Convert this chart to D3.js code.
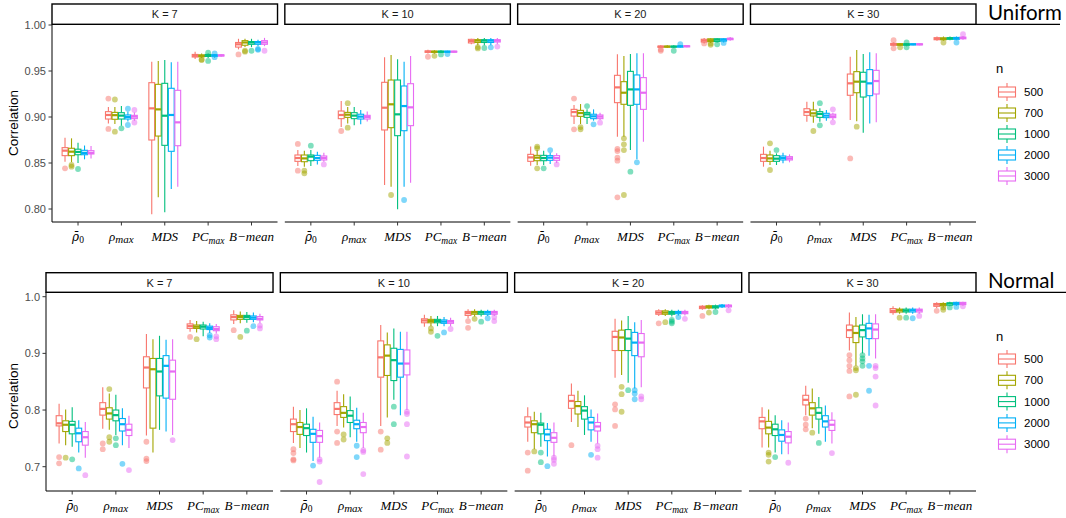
<!DOCTYPE html>
<html>
<head>
<meta charset="utf-8">
<script src="https://cdn.jsdelivr.net/npm/d3@7"></script>
<style>
  html, body { margin: 0; padding: 0; background: #ffffff; }
  svg { display: block; }
</style>
</head>
<body>
<svg id="chart" width="1066" height="518"></svg>
<script>
// ---------------- data ----------------
const methods = ["rho0", "rhomax", "MDS", "PCmax", "Bmean"];
const nLevels = ["500", "700", "1000", "2000", "3000"];
const kLabels = ["K = 7", "K = 10", "K = 20", "K = 30"];
const distributions = ["Uniform", "Normal"];
const nColors = ["#F8766D", "#A3A500", "#00BF7D", "#00B0F6", "#E76BF3"];
const uniformTicks = [0.80, 0.85, 0.90, 0.95, 1.00];
const normalTicks = [0.7, 0.8, 0.9, 1.0];

// each entry: [lower whisker, Q1, median, Q3, upper whisker, [outliers]]
// order: method (rho0, rhomax, MDS, PCmax, Bmean) x n (500, 700, 1000, 2000, 3000)
const uniformK7 = [
  [0.8514, 0.858, 0.8634, 0.8667, 0.8775, [0.8442]],
  [0.851, 0.858, 0.8623, 0.866, 0.8768, [0.8478, 0.846]],
  [0.850, 0.859, 0.862, 0.865, 0.872, [0.8435]],
  [0.854, 0.859, 0.861, 0.8638, 0.869, []],
  [0.855, 0.8598, 0.861, 0.8634, 0.8685, []],
  [0.893, 0.8978, 0.9022, 0.9058, 0.911, [0.920, 0.887]],
  [0.8924, 0.8975, 0.902, 0.905, 0.911, [0.919, 0.884]],
  [0.8906, 0.8978, 0.9015, 0.9047, 0.9119, [0.8877]],
  [0.895, 0.8978, 0.900, 0.9022, 0.906, [0.9091, 0.8913]],
  [0.896, 0.8982, 0.9004, 0.9018, 0.905, [0.9076, 0.894]],
  [0.7942, 0.875, 0.9094, 0.9373, 0.960, []],
  [0.8127, 0.8793, 0.9083, 0.9355, 0.9609, []],
  [0.7964, 0.8692, 0.9014, 0.9366, 0.962, []],
  [0.8217, 0.8627, 0.9022, 0.9312, 0.9594, []],
  [0.8243, 0.8688, 0.8942, 0.929, 0.960, []],
  [0.963, 0.9652, 0.9665, 0.968, 0.971, []],
  [0.964, 0.9655, 0.9665, 0.9675, 0.969, [0.962, 0.9625]],
  [0.964, 0.9658, 0.967, 0.968, 0.969, [0.970, 0.961]],
  [0.9645, 0.966, 0.967, 0.9675, 0.9685, [0.969, 0.965]],
  [0.9655, 0.9663, 0.967, 0.9675, 0.9685, []],
  [0.9735, 0.976, 0.979, 0.981, 0.985, [0.968]],
  [0.976, 0.978, 0.981, 0.983, 0.985, [0.971, 0.972]],
  [0.976, 0.979, 0.981, 0.982, 0.985, [0.972]],
  [0.977, 0.979, 0.981, 0.982, 0.984, [0.973, 0.974]],
  [0.977, 0.979, 0.981, 0.983, 0.986, [0.972]]
];
const uniformK10 = [
  [0.8467, 0.8518, 0.8554, 0.8587, 0.864, [0.8707, 0.8417]],
  [0.846, 0.8514, 0.855, 0.8587, 0.8634, [0.8417, 0.8388]],
  [0.8467, 0.8525, 0.8569, 0.8587, 0.864, [0.8688]],
  [0.8485, 0.8529, 0.8554, 0.8583, 0.8623, []],
  [0.8514, 0.8533, 0.8554, 0.8576, 0.8612, [0.8485]],
  [0.889, 0.8982, 0.9022, 0.9065, 0.9174, [0.8848]],
  [0.893, 0.8996, 0.9025, 0.905, 0.911, [0.915, 0.8884]],
  [0.891, 0.8982, 0.9015, 0.9047, 0.911, []],
  [0.892, 0.8978, 0.9004, 0.903, 0.9076, []],
  [0.895, 0.8978, 0.900, 0.9018, 0.906, []],
  [0.8261, 0.8859, 0.9101, 0.9377, 0.9649, []],
  [0.8243, 0.8884, 0.9138, 0.9402, 0.9674, [0.8152]],
  [0.7996, 0.8797, 0.9029, 0.9402, 0.9627, []],
  [0.8243, 0.8851, 0.9119, 0.9337, 0.9601, [0.8098]],
  [0.8286, 0.8906, 0.9105, 0.9362, 0.9663, []],
  [0.969, 0.9703, 0.971, 0.9718, 0.973, [0.9655]],
  [0.969, 0.9703, 0.971, 0.9715, 0.9725, [0.9665]],
  [0.9695, 0.9705, 0.971, 0.9715, 0.9725, [0.968]],
  [0.970, 0.9705, 0.971, 0.9715, 0.972, [0.9685]],
  [0.970, 0.9706, 0.971, 0.9714, 0.972, []],
  [0.979, 0.9805, 0.9825, 0.9844, 0.985, []],
  [0.978, 0.981, 0.983, 0.984, 0.986, [0.9745, 0.976]],
  [0.978, 0.981, 0.983, 0.984, 0.986, [0.975]],
  [0.978, 0.981, 0.983, 0.984, 0.986, [0.9757]],
  [0.979, 0.9815, 0.983, 0.984, 0.986, [0.9765]]
];
const uniformK20 = [
  [0.8471, 0.8518, 0.8561, 0.8594, 0.8678, []],
  [0.8478, 0.8525, 0.8558, 0.8583, 0.8641, [0.8678, 0.866, 0.8442]],
  [0.8478, 0.8525, 0.8554, 0.8583, 0.8634, [0.8442]],
  [0.8489, 0.8529, 0.8558, 0.858, 0.8612, [0.8641]],
  [0.850, 0.8529, 0.8554, 0.858, 0.8605, [0.8485]],
  [0.8924, 0.901, 0.9054, 0.9083, 0.913, [0.920, 0.8866]],
  [0.8924, 0.9007, 0.9043, 0.9072, 0.9141, [0.8891, 0.8866]],
  [0.8924, 0.8996, 0.9029, 0.905, 0.9083, [0.9119]],
  [0.896, 0.8982, 0.9007, 0.903, 0.9083, [0.892]],
  [0.8967, 0.8982, 0.9004, 0.9022, 0.9047, [0.8938]],
  [0.8786, 0.9156, 0.9322, 0.9453, 0.9681, [0.8652, 0.863, 0.8558, 0.8525, 0.8127]],
  [0.8786, 0.9138, 0.9264, 0.9384, 0.9663, [0.8768, 0.8703, 0.8641, 0.8152]],
  [0.8641, 0.9127, 0.930, 0.9496, 0.9685, [0.8406]],
  [0.854, 0.9138, 0.930, 0.9457, 0.9692, [0.8507]],
  [0.8732, 0.9083, 0.9264, 0.9428, 0.9692, []],
  [0.975, 0.9758, 0.9765, 0.977, 0.978, [0.9735, 0.972]],
  [0.975, 0.976, 0.9765, 0.977, 0.978, []],
  [0.975, 0.976, 0.9765, 0.977, 0.978, [0.972]],
  [0.9755, 0.976, 0.9768, 0.9772, 0.978, [0.9793]],
  [0.9758, 0.9763, 0.977, 0.9773, 0.978, []],
  [0.980, 0.9815, 0.983, 0.9845, 0.986, [0.980]],
  [0.9805, 0.982, 0.9835, 0.985, 0.986, [0.9785, 0.980]],
  [0.981, 0.982, 0.984, 0.985, 0.986, [0.979]],
  [0.981, 0.9825, 0.984, 0.985, 0.986, [0.9805]],
  [0.983, 0.984, 0.985, 0.9855, 0.987, []]
];
const uniformK30 = [
  [0.846, 0.8518, 0.8554, 0.8594, 0.8678, []],
  [0.8478, 0.8518, 0.855, 0.8587, 0.8634, [0.8714, 0.8424]],
  [0.8478, 0.8518, 0.8547, 0.858, 0.8605, [0.8641]],
  [0.8496, 0.8533, 0.8554, 0.8576, 0.8612, []],
  [0.8507, 0.8533, 0.855, 0.8569, 0.8594, []],
  [0.8949, 0.9018, 0.9054, 0.909, 0.9167, []],
  [0.8938, 0.9011, 0.904, 0.9076, 0.9167, [0.8848]],
  [0.8949, 0.8996, 0.9033, 0.9058, 0.9094, [0.915, 0.8909]],
  [0.896, 0.8993, 0.9015, 0.904, 0.9076, []],
  [0.8967, 0.8993, 0.9007, 0.903, 0.9047, [0.9083, 0.8942]],
  [0.8967, 0.9236, 0.9366, 0.9467, 0.9656, [0.855]],
  [0.8955, 0.9264, 0.9384, 0.9493, 0.9728, [0.8895]],
  [0.883, 0.9217, 0.9384, 0.9486, 0.9685, []],
  [0.893, 0.9232, 0.9366, 0.9515, 0.9703, []],
  [0.8942, 0.925, 0.9391, 0.9507, 0.9692, []],
  [0.977, 0.978, 0.979, 0.980, 0.981, [0.9835, 0.9746]],
  [0.977, 0.978, 0.979, 0.9795, 0.9805, [0.9757]],
  [0.977, 0.978, 0.979, 0.9795, 0.9805, [0.981, 0.9757]],
  [0.978, 0.9785, 0.979, 0.9795, 0.980, []],
  [0.978, 0.9785, 0.979, 0.9795, 0.980, []],
  [0.983, 0.984, 0.985, 0.9862, 0.9875, []],
  [0.983, 0.984, 0.985, 0.986, 0.9875, [0.981]],
  [0.9835, 0.9845, 0.9855, 0.9862, 0.9875, []],
  [0.9835, 0.9845, 0.9855, 0.9865, 0.9875, [0.981]],
  [0.984, 0.985, 0.986, 0.9868, 0.988, [0.990]]
];
const normalK7 = [
  [0.741, 0.772, 0.7766, 0.790, 0.811, [0.717, 0.706]],
  [0.738, 0.762, 0.774, 0.781, 0.801, [0.716]],
  [0.735, 0.758, 0.774, 0.780, 0.805, [0.713]],
  [0.725, 0.744, 0.759, 0.768, 0.782, [0.697]],
  [0.716, 0.738, 0.752, 0.762, 0.779, [0.685]],
  [0.767, 0.791, 0.802, 0.813, 0.840, [0.741, 0.731]],
  [0.765, 0.784, 0.794, 0.804, 0.829, [0.837, 0.752, 0.744]],
  [0.756, 0.781, 0.791, 0.800, 0.827, [0.750, 0.738]],
  [0.738, 0.763, 0.775, 0.785, 0.803, [0.705]],
  [0.733, 0.755, 0.765, 0.775, 0.790, [0.694]],
  [0.755, 0.839, 0.875, 0.894, 0.934, [0.744, 0.714, 0.710]],
  [0.725, 0.768, 0.872, 0.891, 0.925, []],
  [0.765, 0.825, 0.868, 0.891, 0.931, []],
  [0.762, 0.821, 0.878, 0.896, 0.924, []],
  [0.756, 0.819, 0.868, 0.888, 0.925, [0.747]],
  [0.938, 0.944, 0.948, 0.952, 0.959, [0.929]],
  [0.937, 0.944, 0.947, 0.950, 0.957, [0.925]],
  [0.930, 0.943, 0.947, 0.950, 0.956, []],
  [0.936, 0.942, 0.945, 0.948, 0.953, [0.932, 0.928]],
  [0.935, 0.940, 0.943, 0.947, 0.952, [0.930, 0.925]],
  [0.952, 0.959, 0.964, 0.968, 0.976, [0.941]],
  [0.953, 0.960, 0.964, 0.967, 0.974, [0.929]],
  [0.954, 0.960, 0.964, 0.967, 0.973, [0.940]],
  [0.955, 0.960, 0.963, 0.966, 0.972, [0.948]],
  [0.953, 0.959, 0.961, 0.965, 0.970, [0.949, 0.944]]
];
const normalK10 = [
  [0.742, 0.762, 0.775, 0.784, 0.806, [0.731, 0.724, 0.713, 0.711]],
  [0.733, 0.757, 0.770, 0.778, 0.800, []],
  [0.725, 0.755, 0.768, 0.775, 0.803, []],
  [0.710, 0.743, 0.758, 0.766, 0.788, [0.702]],
  [0.716, 0.743, 0.754, 0.764, 0.778, [0.713, 0.709, 0.673]],
  [0.772, 0.792, 0.802, 0.813, 0.834, [0.850, 0.762, 0.742]],
  [0.769, 0.787, 0.795, 0.806, 0.828, [0.757, 0.748]],
  [0.752, 0.778, 0.790, 0.799, 0.824, []],
  [0.744, 0.767, 0.775, 0.782, 0.804, [0.737, 0.717]],
  [0.733, 0.760, 0.770, 0.778, 0.795, [0.729, 0.726, 0.687]],
  [0.772, 0.858, 0.893, 0.922, 0.950, [0.762, 0.730]],
  [0.787, 0.861, 0.896, 0.915, 0.937, [0.750, 0.742]],
  [0.818, 0.852, 0.888, 0.909, 0.944, [0.806, 0.775]],
  [0.791, 0.858, 0.882, 0.907, 0.938, []],
  [0.800, 0.862, 0.882, 0.906, 0.938, [0.797, 0.793, 0.775, 0.718]],
  [0.947, 0.954, 0.958, 0.961, 0.968, []],
  [0.948, 0.954, 0.957, 0.960, 0.966, [0.944, 0.938]],
  [0.948, 0.954, 0.957, 0.960, 0.966, [0.931]],
  [0.948, 0.953, 0.956, 0.959, 0.964, [0.937]],
  [0.948, 0.953, 0.956, 0.958, 0.963, [0.943]],
  [0.962, 0.967, 0.971, 0.974, 0.978, [0.957, 0.945]],
  [0.965, 0.969, 0.972, 0.974, 0.978, [0.961]],
  [0.965, 0.969, 0.972, 0.974, 0.977, [0.956]],
  [0.966, 0.969, 0.972, 0.974, 0.977, [0.962]],
  [0.966, 0.969, 0.972, 0.974, 0.977, [0.964, 0.957]]
];
const normalK20 = [
  [0.744, 0.770, 0.778, 0.788, 0.805, [0.725, 0.693]],
  [0.731, 0.760, 0.775, 0.781, 0.797, [0.727]],
  [0.735, 0.758, 0.774, 0.777, 0.795, [0.725, 0.708]],
  [0.718, 0.746, 0.757, 0.766, 0.777, [0.701]],
  [0.718, 0.743, 0.751, 0.760, 0.778, [0.716, 0.712, 0.705]],
  [0.779, 0.803, 0.816, 0.826, 0.847, [0.738]],
  [0.770, 0.793, 0.807, 0.815, 0.834, []],
  [0.756, 0.784, 0.799, 0.806, 0.826, []],
  [0.744, 0.765, 0.778, 0.787, 0.801, [0.721]],
  [0.741, 0.763, 0.771, 0.778, 0.794, [0.737, 0.731, 0.716]],
  [0.857, 0.905, 0.929, 0.939, 0.961, [0.810, 0.801, 0.772]],
  [0.862, 0.905, 0.928, 0.941, 0.958, [0.841, 0.828, 0.797]],
  [0.848, 0.905, 0.926, 0.942, 0.966, [0.835]],
  [0.838, 0.896, 0.919, 0.937, 0.955, [0.835, 0.829, 0.819]],
  [0.840, 0.894, 0.919, 0.935, 0.959, [0.824, 0.819]],
  [0.966, 0.969, 0.972, 0.975, 0.978, [0.953]],
  [0.966, 0.969, 0.972, 0.975, 0.978, [0.955]],
  [0.965, 0.969, 0.9715, 0.974, 0.977, [0.959, 0.956, 0.953]],
  [0.967, 0.970, 0.972, 0.974, 0.977, [0.964]],
  [0.967, 0.970, 0.972, 0.974, 0.977, [0.961]],
  [0.977, 0.979, 0.982, 0.983, 0.985, [0.966]],
  [0.978, 0.980, 0.982, 0.984, 0.986, [0.972]],
  [0.978, 0.980, 0.982, 0.984, 0.986, [0.973]],
  [0.980, 0.982, 0.984, 0.985, 0.987, []],
  [0.980, 0.982, 0.984, 0.985, 0.987, [0.976]]
];
const normalK30 = [
  [0.734, 0.767, 0.780, 0.787, 0.805, []],
  [0.734, 0.758, 0.769, 0.780, 0.801, [0.725, 0.721, 0.709]],
  [0.725, 0.755, 0.766, 0.775, 0.791, [0.717]],
  [0.722, 0.745, 0.756, 0.765, 0.782, []],
  [0.722, 0.742, 0.753, 0.762, 0.778, [0.707]],
  [0.791, 0.809, 0.818, 0.826, 0.843, [0.785, 0.774, 0.766]],
  [0.768, 0.791, 0.803, 0.813, 0.838, [0.760]],
  [0.758, 0.784, 0.795, 0.804, 0.823, [0.742]],
  [0.744, 0.770, 0.780, 0.790, 0.808, []],
  [0.741, 0.764, 0.774, 0.782, 0.796, [0.724]],
  [0.905, 0.928, 0.941, 0.950, 0.972, [0.897, 0.888, 0.878, 0.869, 0.824]],
  [0.878, 0.919, 0.936, 0.948, 0.964, [0.874, 0.870, 0.827]],
  [0.900, 0.929, 0.941, 0.950, 0.969, [0.897, 0.891, 0.886, 0.878]],
  [0.896, 0.926, 0.944, 0.953, 0.968, [0.878, 0.834]],
  [0.891, 0.926, 0.942, 0.952, 0.969, [0.878, 0.874, 0.859, 0.808]],
  [0.968, 0.972, 0.975, 0.979, 0.983, []],
  [0.970, 0.973, 0.976, 0.978, 0.981, [0.963]],
  [0.970, 0.973, 0.9755, 0.978, 0.981, [0.963]],
  [0.970, 0.973, 0.976, 0.978, 0.981, [0.962]],
  [0.970, 0.973, 0.976, 0.978, 0.981, [0.966]],
  [0.980, 0.983, 0.986, 0.988, 0.990, [0.975]],
  [0.981, 0.984, 0.986, 0.988, 0.990, [0.981, 0.977]],
  [0.983, 0.985, 0.988, 0.989, 0.991, [0.981]],
  [0.984, 0.986, 0.988, 0.990, 0.991, [0.982]],
  [0.984, 0.986, 0.988, 0.990, 0.991, [0.983]]
];

// ---------------- layout ----------------
const svg = d3.select("#chart");
svg.append("rect").attr("width", 1066).attr("height", 518).attr("fill", "#fff");

const rows = [
  { dist: distributions[0], panels: [uniformK7, uniformK10, uniformK20, uniformK30], ticks: uniformTicks,
    fmt: d3.format(".2f"), left: 52, right: 976, stripTop: 4, stripBot: 24.3, axisY: 222,
    yRange: [209, 25], legendTop: 92, legendStep: 21, titleY: 72.5, distY: 19.5, lineEnd: 1060, labelY: 123 },
  { dist: distributions[1], panels: [normalK7, normalK10, normalK20, normalK30], ticks: normalTicks,
    fmt: d3.format(".1f"), left: 46, right: 976, stripTop: 272.7, stripBot: 292.3, axisY: 491,
    yRange: [466.7, 296.7], legendTop: 359, legendStep: 21.3, titleY: 341, distY: 287.5, lineEnd: 1066, labelY: 396 }
];
const gap = 7.3;
const sansFont = "'Liberation Sans', Arial, sans-serif";
const mathFont = "'Liberation Serif', 'DejaVu Serif', serif";

function drawLabel(sel, m) {
  const t = sel.append("text").attr("text-anchor", "middle")
    .attr("font-family", mathFont).attr("font-style", "italic").attr("font-size", 13).attr("fill", "#000");
  if (m === "rho0") {
    t.append("tspan").attr("font-family", "'DejaVu Serif', serif").attr("font-size", 12).text("\u03C1\u0304");
    t.append("tspan").attr("font-size", 9.5).attr("font-style", "normal").attr("dy", 2.5).text("0");
  } else if (m === "rhomax") {
    t.append("tspan").text("\u03C1");
    t.append("tspan").attr("font-size", 11).attr("dy", 2).text("max");
  } else if (m === "MDS") {
    t.text("MDS");
  } else if (m === "PCmax") {
    t.append("tspan").text("PC");
    t.append("tspan").attr("font-size", 9.5).attr("dy", 3.5).text("max");
  } else {
    t.text("B\u2212mean");
  }
  return t;
}

rows.forEach(row => {
  const y = d3.scaleLinear().domain([row.ticks[0], row.ticks[row.ticks.length - 1]]).range(row.yRange);
  const pw = (row.right - row.left - 3 * gap) / 4;

  row.panels.forEach((pdata, pi) => {
    const px0 = row.left + pi * (pw + gap);
    const px1 = px0 + pw;
    const g = svg.append("g");
    const x0 = d3.scalePoint().domain(methods).range([px0, px1]).padding(0.6);
    const groupW = 0.75 * x0.step();
    const x1 = d3.scaleBand().domain(nLevels).range([-groupW / 2, groupW / 2]);
    const color = d3.scaleOrdinal().domain(nLevels).range(nColors);

    // strip
    g.append("rect").attr("x", px0).attr("y", row.stripTop).attr("width", pw)
      .attr("height", row.stripBot - row.stripTop).attr("fill", "#fff")
      .attr("stroke", "#000").attr("stroke-width", 1.4);
    g.append("text").attr("x", (px0 + px1) / 2).attr("y", (row.stripTop + row.stripBot) / 2 + 4)
      .attr("text-anchor", "middle").attr("font-family", sansFont).attr("font-size", 11)
      .attr("fill", "#1A1A1A").text(kLabels[pi]);

    // x axis
    g.append("line").attr("x1", px0).attr("x2", px1).attr("y1", row.axisY).attr("y2", row.axisY)
      .attr("stroke", "#000").attr("stroke-width", 1);
    methods.forEach(m => {
      g.append("line").attr("x1", x0(m)).attr("x2", x0(m)).attr("y1", row.axisY).attr("y2", row.axisY + 3.5)
        .attr("stroke", "#333").attr("stroke-width", 1);
      drawLabel(g, m).attr("x", x0(m)).attr("y", row.axisY + 18.5);
    });

    // y axis only on the first panel
    if (pi === 0) {
      g.append("line").attr("x1", px0).attr("x2", px0).attr("y1", row.stripBot).attr("y2", row.axisY)
        .attr("stroke", "#000").attr("stroke-width", 1);
      row.ticks.forEach(t => {
        g.append("line").attr("x1", px0 - 3.5).attr("x2", px0).attr("y1", y(t)).attr("y2", y(t))
          .attr("stroke", "#333").attr("stroke-width", 1);
        g.append("text").attr("x", px0 - 6).attr("y", y(t) + 3.8).attr("text-anchor", "end")
          .attr("font-family", sansFont).attr("font-size", 11).attr("fill", "#4D4D4D")
          .text(row.fmt(t));
      });
      g.append("text").attr("transform", `translate(17.5,${row.labelY}) rotate(-90)`)
        .attr("text-anchor", "middle").attr("font-family", sansFont).attr("font-size", 13.5)
        .attr("fill", "#000").text("Correlation");
    }

    // boxes
    methods.forEach((m, mi) => {
      nLevels.forEach((n, ni) => {
        const d = pdata[mi * nLevels.length + ni];
        const [lo, q1, med, q3, hi, outs] = d;
        const c = color(n);
        const bw = x1.bandwidth();
        const cx = x0(m) + x1(n) + bw / 2;
        const bx = x0(m) + x1(n) + 0.35;
        const w = bw - 0.7;
        outs.forEach(o => {
          g.append("circle").attr("cx", cx).attr("cy", y(o)).attr("r", 2.9)
            .attr("fill", c).attr("fill-opacity", 0.5);
        });
        g.append("line").attr("x1", cx).attr("x2", cx).attr("y1", y(hi)).attr("y2", y(q3))
          .attr("stroke", c).attr("stroke-width", 1.1);
        g.append("line").attr("x1", cx).attr("x2", cx).attr("y1", y(q1)).attr("y2", y(lo))
          .attr("stroke", c).attr("stroke-width", 1.1);
        g.append("rect").attr("x", bx).attr("y", y(q3)).attr("width", w)
          .attr("height", Math.max(0.5, y(q1) - y(q3)))
          .attr("fill", "#fff").attr("stroke", c).attr("stroke-width", 1.1);
        g.append("line").attr("x1", bx).attr("x2", bx + w).attr("y1", y(med)).attr("y2", y(med))
          .attr("stroke", c).attr("stroke-width", 2.2);
      });
    });
  });

  // distribution label with underline
  svg.append("text").attr("x", 988).attr("y", row.distY)
    .attr("font-family", "Lato, 'Open Sans', sans-serif").attr("font-size", 20.5).attr("fill", "#000")
    .text(row.dist);
  svg.append("line").attr("x1", row.right).attr("x2", row.lineEnd)
    .attr("y1", row.stripBot).attr("y2", row.stripBot).attr("stroke", "#000").attr("stroke-width", 1.2);

  // legend
  const lg = svg.append("g");
  lg.append("text").attr("x", 996).attr("y", row.titleY).attr("font-family", sansFont)
    .attr("font-size", 13).attr("fill", "#000").text("n");
  nLevels.forEach((n, i) => {
    const cy = row.legendTop + i * row.legendStep;
    const c = nColors[i];
    lg.append("line").attr("x1", 1007).attr("x2", 1007).attr("y1", cy - 9).attr("y2", cy + 9)
      .attr("stroke", c).attr("stroke-width", 1.1);
    lg.append("rect").attr("x", 998.5).attr("y", cy - 5).attr("width", 17).attr("height", 10)
      .attr("fill", "#fff").attr("stroke", c).attr("stroke-width", 1.1);
    lg.append("line").attr("x1", 998.5).attr("x2", 1015.5).attr("y1", cy).attr("y2", cy)
      .attr("stroke", c).attr("stroke-width", 1.1);
    lg.append("text").attr("x", 1024).attr("y", cy + 4).attr("font-family", sansFont)
      .attr("font-size", 11.5).attr("fill", "#000").text(n);
  });
});
</script>
</body>
</html>
